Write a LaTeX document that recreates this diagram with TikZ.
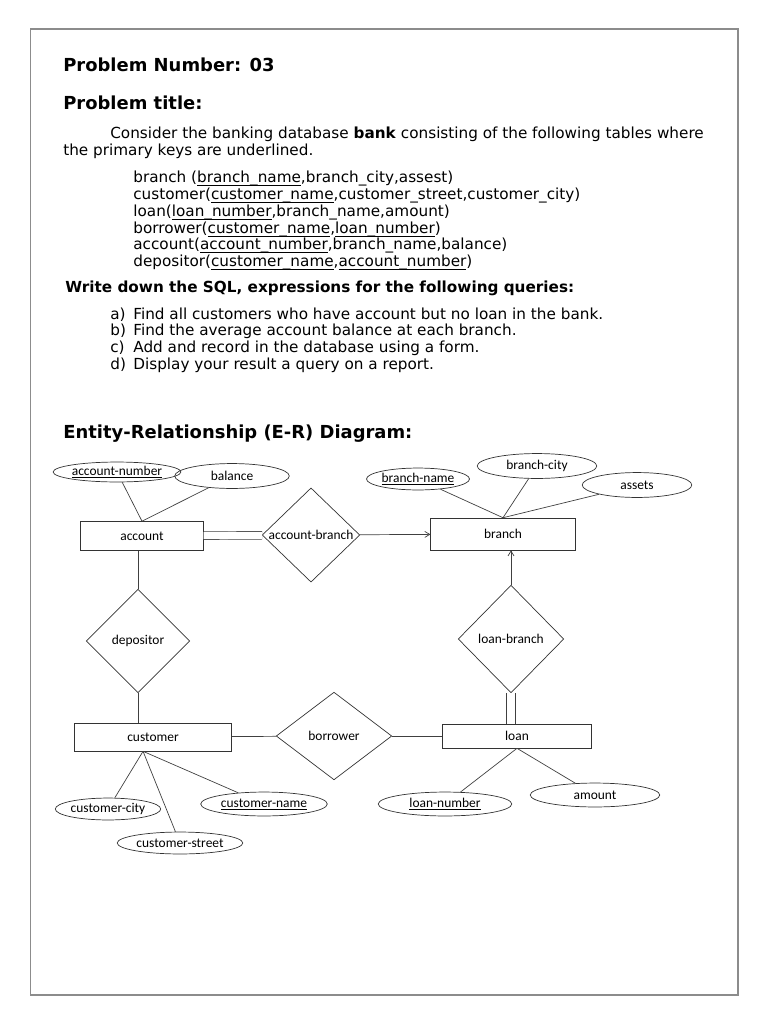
\documentclass[tikz,border=0pt]{standalone}
\usepackage{fontspec}
\setmainfont{DejaVu Sans}
\newfontfamily\erfont{Carlito}
\usetikzlibrary{shapes.geometric,arrows.meta}
\newcommand{\keyul}[1]{\setbox0\hbox{#1}\rlap{\rule[-3.4bp]{\wd0}{0.7bp}}\box0}

\begin{document}
\begin{tikzpicture}[
  x=1bp, y=-1bp, line width=0.7bp,
  txt/.style={anchor=base west,inner sep=0pt,font=\fontsize{15.3}{17}\selectfont},
  head/.style={anchor=base west,inner sep=0pt,font=\fontsize{18}{22}\selectfont\bfseries},
  entity/.style={rectangle,draw=black!80,inner sep=0pt,font=\erfont\fontsize{13.5}{15}\selectfont},
  attr/.style={ellipse,draw=black!80,inner sep=0pt,font=\erfont\fontsize{13.5}{15}\selectfont},
  rel/.style={diamond,draw=black!80,inner sep=0pt,aspect=1,font=\erfont\fontsize{13.5}{15}\selectfont},
  link/.style={draw=black!75},
  >={Straight Barb[length=5bp,width=6bp]}
]
  \useasboundingbox (0,0) rectangle (768,1024);
  \draw[black!45,line width=1.3bp] (30.5,29) rectangle (738,995);

  \node[head] (pnum) at (63,71) {Problem Number: 03};
  \node[head] (ptitle) at (63,109) {Problem title:};
  \node[txt] (intro1) at (110,138) {Consider the banking database \textbf{bank} consisting of the following tables where};
  \node[txt] (intro2) at (63,155) {the primary keys are underlined.};
  \node[txt] (s1) at (133,182) {branch (\keyul{branch\_name},branch\_city,assest)};
  \node[txt] (s2) at (133,199) {customer(\keyul{customer\_name},customer\_street,customer\_city)};
  \node[txt] (s3) at (133,216) {loan(\keyul{loan\_number},branch\_name,amount)};
  \node[txt] (s4) at (133,233) {borrower(\keyul{customer\_name},\keyul{loan\_number})};
  \node[txt] (s5) at (133,249) {account(\keyul{account\_number},branch\_name,balance)};
  \node[txt] (s6) at (133,266) {depositor(\keyul{customer\_name},\keyul{account\_number})};
  \node[txt,font=\fontsize{15.3}{17}\selectfont\bfseries] (ask) at (65,292) {Write down the SQL, expressions for the following queries:};
  \node[txt] (qa) at (110,319) {a)};
  \node[txt] (qat) at (133,319) {Find all customers who have account but no loan in the bank.};
  \node[txt] (qb) at (110,335) {b)};
  \node[txt] (qbt) at (133,335) {Find the average account balance at each branch.};
  \node[txt] (qc) at (110,352) {c)};
  \node[txt] (qct) at (133,352) {Add and record in the database using a form.};
  \node[txt] (qd) at (110,369) {d)};
  \node[txt] (qdt) at (133,369) {Display your result a query on a report.};
  \node[head] (erhead) at (63,438) {Entity-Relationship (E-R) Diagram:};

  \node[entity,minimum width=123,minimum height=29] (account) at (142,536) {account};
  \node[entity,minimum width=145,minimum height=32] (branch) at (503,534) {branch};
  \node[entity,minimum width=157,minimum height=28] (customer) at (153,737) {customer};
  \node[entity,minimum width=150,minimum height=24] (loan) at (517,736) {loan};
  \node[rel,minimum width=98,minimum height=90] (accbr) at (311,535) {account-branch};
  \node[rel,minimum width=104,minimum height=104] (dep) at (138,641) {depositor};
  \node[rel,minimum width=106,minimum height=108] (loanbr) at (511,639) {loan-branch};
  \node[rel,minimum width=116,minimum height=88] (borr) at (334,736) {borrower};
  \node[attr,minimum width=105,minimum height=20] (accnum) at (117,472) {\underline{account-number}};
  \node[attr,minimum width=115,minimum height=25] (bal) at (232,476) {balance};
  \node[attr,minimum width=100,minimum height=22] (brname) at (418,479) {\underline{branch-name}};
  \node[attr,minimum width=120,minimum height=25] (brcity) at (537,466) {branch-city};
  \node[attr,minimum width=110,minimum height=25] (assets) at (637,485) {assets};
  \node[attr,minimum width=92,minimum height=22] (custcity) at (108,809) {customer-city};
  \node[attr,minimum width=126,minimum height=22] (custstreet) at (180,843) {customer-street};
  \node[attr,minimum width=127,minimum height=24] (custname) at (264,804) {\underline{customer-name}};
  \node[attr,minimum width=134,minimum height=24] (loannum) at (445,804) {\underline{loan-number}};
  \node[attr,minimum width=130,minimum height=24] (amount) at (595,795) {amount};

  \draw[link] (accnum) -- (account.north);
  \draw[link] (bal) -- (account.north);
  \draw[link] (brname) -- (branch.north);
  \draw[link] (brcity) -- (branch.north);
  \draw[link] (assets) -- (branch.north);
  \draw[link] (custcity) -- ([xshift=-10]customer.south);
  \draw[link] (custstreet) -- ([xshift=-10]customer.south);
  \draw[link] (custname) -- ([xshift=-10]customer.south);
  \draw[link] (loannum) -- (loan.south);
  \draw[link] (amount) -- (loan.south);
  \draw[link,double,double distance=7bp] (account) -- (accbr);
  \draw[link,->] (accbr) -- (branch);
  \draw[link] (dep.north) -- (dep.north |- account.south);
  \draw[link] (dep.south) -- (dep.south |- customer.north);
  \draw[link,->] (loanbr.north) -- (loanbr.north |- branch.south);
  \draw[link,double,double distance=8bp] (loanbr.south) -- (loanbr.south |- loan.north);
  \draw[link] (customer) -- (borr);
  \draw[link] (borr) -- (loan);
\end{tikzpicture}
\end{document}
